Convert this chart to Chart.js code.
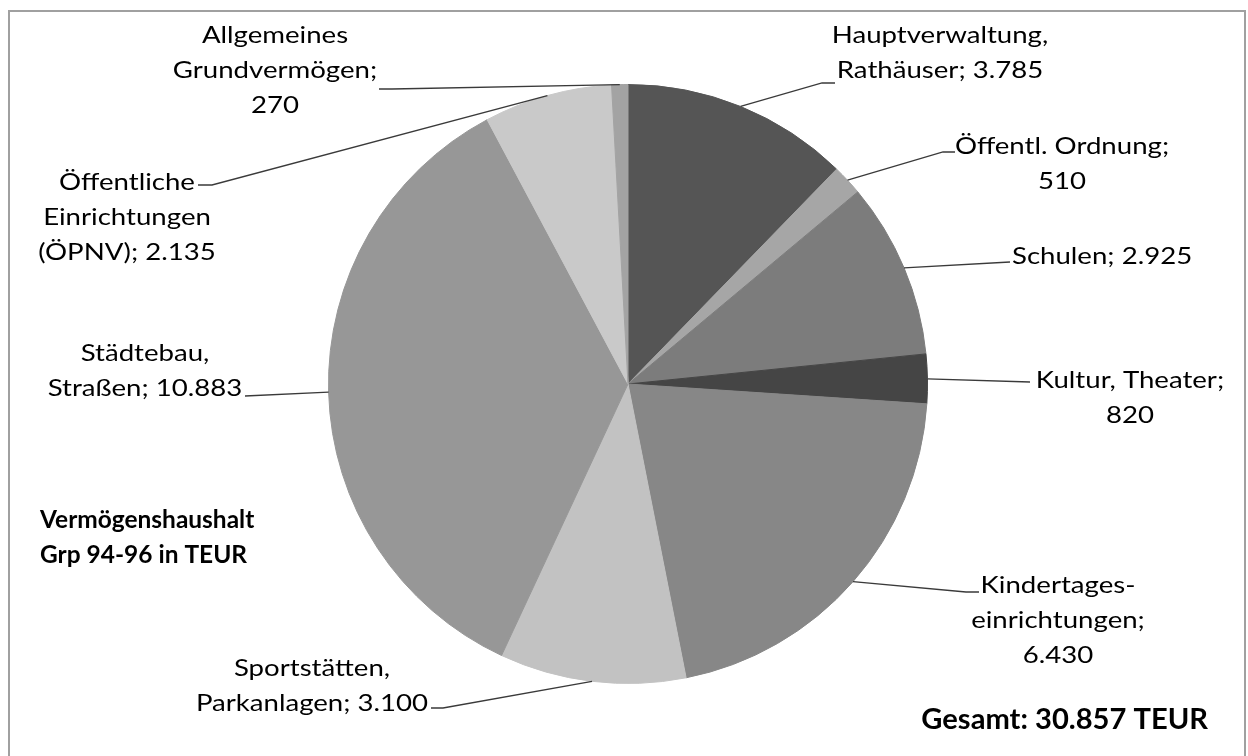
<!DOCTYPE html>
<html lang="de">
<head>
  <meta charset="UTF-8">
  <title>Vermögenshaushalt Grp 94-96</title>
  <script src="https://cdn.jsdelivr.net/npm/chart.js"></script>
  <style>
    html, body { margin: 0; padding: 0; background: #fff; }
    canvas { display: block; }
  </style>
</head>
<body>
  <canvas id="kuchen" width="1248" height="756"></canvas>

  <script>
    // Daten (TEUR)
    const categories = ['Hauptverwaltung, Rathäuser', 'Öffentl. Ordnung', 'Schulen', 'Kultur, Theater',
      'Kindertageseinrichtungen', 'Sportstätten, Parkanlagen', 'Städtebau, Straßen',
      'Öffentliche Einrichtungen (ÖPNV)', 'Allgemeines Grundvermögen'];
    const values = [3785, 510, 2925, 820, 6430, 3100, 10883, 2135, 270];
    const labelParts = [
      ['Hauptverwaltung,', 'Rathäuser;'], ['Öffentl. Ordnung;'], ['Schulen;'], ['Kultur, Theater;'],
      ['Kindertages-', 'einrichtungen;'], ['Sportstätten,', 'Parkanlagen;'], ['Städtebau,', 'Straßen;'],
      ['Öffentliche', 'Einrichtungen', '(ÖPNV);'], ['Allgemeines', 'Grundvermögen;']
    ];
    const titleLines = ['Vermögenshaushalt', 'Grp 94-96 in TEUR'];
    const totalLabel = 'Gesamt: 30.857 TEUR';

    const colors = ['#555555', '#a6a6a6', '#7c7c7c', '#454545', '#878787', '#c2c2c2', '#979797', '#c9c9c9', '#a3a3a3'];

    // Lage der Beschriftungen
    const labelPos = [
      { x: 940, y: 35, align: 'center', ownLine: false, elbow: [822, 83], end: [835, 83] },
      { x: 1062, y: 146, align: 'center', ownLine: true, elbow: [943, 152], end: [955, 152] },
      { x: 1012, y: 256, align: 'left', ownLine: false, elbow: null, end: [1010, 262] },
      { x: 1130, y: 380, align: 'center', ownLine: true, elbow: null, end: [1030, 382] },
      { x: 1058, y: 585, align: 'center', ownLine: true, elbow: [966, 592], end: [979, 592] },
      { x: 312, y: 668, align: 'center', ownLine: false, elbow: [443, 708], end: [431, 708] },
      { x: 145, y: 353, align: 'center', ownLine: false, elbow: null, end: [245, 396] },
      { x: 127, y: 182, align: 'center', ownLine: false, elbow: [212, 185], end: [198, 185] },
      { x: 275, y: 35, align: 'center', ownLine: true, elbow: [392, 89], end: [379, 89] }
    ];

    const FONT = 'Lato, "Open Sans", sans-serif';
    const fmt = v => String(v).replace(/\B(?=(\d{3})+(?!\d))/g, '.');

    // Text mit horizontaler Streckung (die Vorlage ist etwas breiter gesetzt)
    function text(ctx, t, x, y, sx) {
      ctx.save();
      ctx.translate(x, y);
      ctx.scale(sx, 1);
      ctx.fillText(t, 0, 0);
      ctx.restore();
    }

    const beschriftung = {
      id: 'beschriftung',
      afterDraw(chart) {
        const ctx = chart.ctx;
        const arcs = chart.getDatasetMeta(0).data;
        ctx.save();

        // Rahmen
        ctx.strokeStyle = '#a0a0a0';
        ctx.lineWidth = 2;
        ctx.strokeRect(9, 11, 1236, 760);

        // Führungslinien
        ctx.strokeStyle = '#3a3a3a';
        ctx.lineWidth = 1.3;
        arcs.forEach((arc, i) => {
          const p = labelPos[i];
          const mid = (arc.startAngle + arc.endAngle) / 2;
          const sx = arc.x + arc.outerRadius * Math.cos(mid);
          const sy = arc.y + arc.outerRadius * Math.sin(mid);
          ctx.beginPath();
          ctx.moveTo(sx, sy);
          if (p.elbow) ctx.lineTo(p.elbow[0], p.elbow[1]);
          ctx.lineTo(p.end[0], p.end[1]);
          ctx.stroke();
        });

        // Texte
        ctx.fillStyle = '#000';
        ctx.textBaseline = 'middle';
        ctx.font = '24px ' + FONT;
        values.forEach((v, i) => {
          const p = labelPos[i];
          const lines = labelParts[i].slice();
          if (p.ownLine) lines.push(fmt(v));
          else lines[lines.length - 1] += ' ' + fmt(v);
          ctx.textAlign = p.align;
          lines.forEach((t, j) => text(ctx, t, p.x, p.y + j * 35, 1.15));
        });

        ctx.font = 'bold 24px ' + FONT;
        ctx.textAlign = 'left';
        titleLines.forEach((t, j) => text(ctx, t, 40, 520 + j * 35, 1.02));
        ctx.font = 'bold 28px ' + FONT;
        ctx.textAlign = 'right';
        text(ctx, totalLabel, 1208, 720, 1.04);
        ctx.restore();
      }
    };

    new Chart(document.getElementById('kuchen'), {
      type: 'pie',
      data: {
        labels: categories,
        datasets: [{
          data: values,
          backgroundColor: colors,
          borderColor: colors,
          borderWidth: 1
        }]
      },
      options: {
        responsive: false,
        animation: false,
        layout: { padding: { left: 328, right: 320, top: 84, bottom: 72 } },
        plugins: { legend: { display: false }, tooltip: { enabled: false } }
      },
      plugins: [beschriftung]
    });
  </script>
</body>
</html>
